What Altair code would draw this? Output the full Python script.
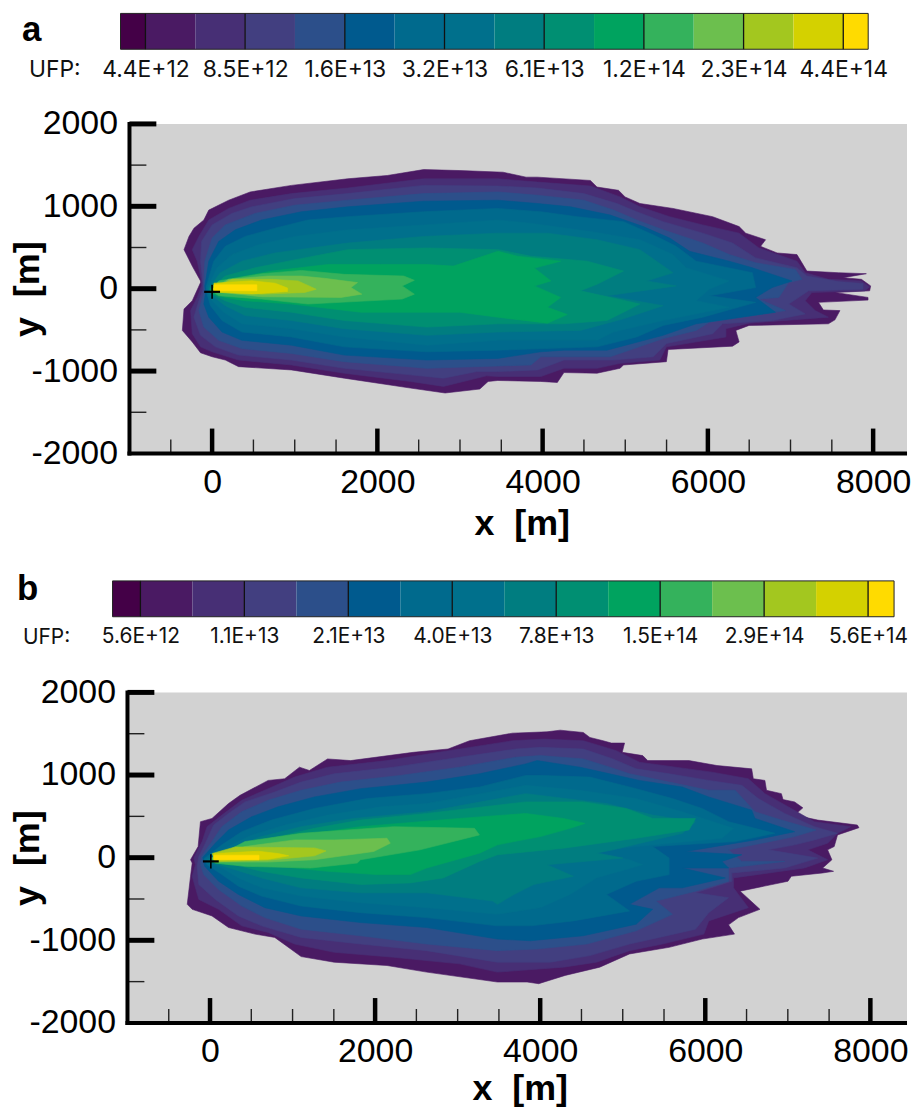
import altair as alt
import pandas as pd

COLORS = ["#440047", "#4a1a63", "#472f75", "#423f80", "#2c4f8a", "#005a8e", "#006a8d", "#00708c",
          "#007d80", "#008f72", "#00a35f", "#34b25c", "#6cbf4e", "#a3c71f", "#d4d100", "#ffdb00"]
LABELS_A = ["4.4E+12", "8.5E+12", "1.6E+13", "3.2E+13", "6.1E+13", "1.2E+14", "2.3E+14", "4.4E+14"]
LABELS_B = ["5.6E+12", "1.1E+13", "2.1E+13", "4.0E+13", "7.8E+13", "1.5E+14", "2.9E+14", "5.6E+14"]
X_MAJOR = [0, 2000, 4000, 6000, 8000]
X_MINOR = [-500, 500, 1000, 1500, 2500, 3000, 3500, 4500, 5000, 5500, 6500, 7000, 7500]
Y_MAJOR = [2000, 1000, 0, -1000]
Y_LABELS = [2000, 1000, 0, -1000, -2000]
Y_MINOR = [1500, 500, -500, -1500]

A01 = [(-140,94),(-240,274),(-340,474),(-280,634),(-220,734),(-100,834),(-40,954),(200,1074),(460,1174),(960,1254),(1640,1334),(2120,1374),(2560,1446),(3000,1434),(3520,1414),(3800,1354),(3938,1354),(4578,1314),(4658,1234),(4918,1194),(4998,1114),(5178,1034),(5578,974),(6058,874),(6378,754),(6458,674),(6698,594),(6638,514),(6838,434),(7078,414),(7198,214),(7578,194),(7918,182),(7638,134),(7858,114),(7970,34),(7958,-26),(7538,-46),(7938,-106),(7938,-138),(7338,-166),(7398,-258),(7598,-266),(7538,-378),(7458,-426),(6498,-446),(6338,-506),(6378,-646),(6298,-698),(5518,-738),(5498,-886),(4978,-926),(4938,-966),(4658,-1026),(4258,-1018),(4178,-1138),(3978,-1126),(3458,-1114),(3340,-1126),(3240,-1218),(2820,-1266),(2400,-1206),(1600,-1086),(960,-986),(320,-946),(160,-866),(0,-826),(-140,-778),(-240,-646),(-360,-506),(-340,-246),(-240,-146),(-140,74)]
A02 = [(-128,94),(-180,334),(-240,474),(-160,634),(-40,834),(200,974),(460,1074),(960,1154),(1640,1222),(2560,1334),(3460,1334),(3938,1294),(4578,1246),(4938,1114),(5178,994),(5538,874),(5938,774),(6378,674),(6618,494),(7078,334),(7178,194),(7458,114),(7858,94),(7958,22),(7898,-26),(7258,-46),(7178,-146),(7298,-266),(7458,-346),(6498,-418),(6218,-486),(6218,-586),(5498,-706),(5418,-866),(4938,-906),(4658,-966),(4258,-966),(3978,-1066),(3458,-1066),(3320,-1058),(2800,-1186),(2400,-1126),(1600,-1026),(960,-926),(320,-866),(0,-766),(-140,-706),(-240,-546),(-260,-266),(-180,-106),(-128,34)]
A03 = [(-112,74),(-140,334),(-128,574),(0,774),(240,914),(480,994),(1000,1094),(1640,1154),(2560,1254),(3460,1246),(3938,1222),(4498,1154),(4898,1034),(5138,934),(5458,814),(5938,674),(6298,554),(6578,374),(7078,254),(7198,154),(7578,86),(7878,62),(7878,-6),(7218,-26),(6978,-186),(7178,-306),(6778,-386),(6178,-426),(6058,-546),(5498,-666),(5338,-826),(4858,-866),(4258,-866),(3938,-986),(3458,-1006),(3200,-1006),(2800,-1086),(2400,-1046),(1600,-966),(960,-866),(320,-806),(40,-706),(-140,-566),(-220,-346),(-160,-146),(-112,-6)]
A04 = [(-100,54),(-88,334),(0,614),(160,774),(520,914),(1000,1014),(1640,1074),(2560,1154),(3460,1174),(3938,1134),(4498,1074),(4858,954),(5138,834),(5458,714),(5938,554),(6258,414),(6578,314),(7058,234),(7138,114),(6978,74),(6858,-106),(6618,-126),(6938,-266),(6018,-406),(5858,-506),(5458,-606),(4818,-826),(3978,-826),(3858,-926),(3458,-938),(2600,-966),(1600,-886),(960,-786),(360,-726),(80,-626),(-100,-466),(-160,-266),(-100,-46)]
A05 = [(-88,34),(-40,334),(80,574),(280,714),(600,834),(1080,934),(1640,994),(2560,1062),(3460,1074),(3938,1034),(4338,994),(4818,894),(5218,754),(5538,614),(5778,454),(6258,334),(6538,254),(7018,94),(6778,14),(6578,-106),(6818,-286),(5858,-426),(5458,-566),(4778,-746),(4258,-746),(3978,-766),(3458,-846),(2600,-866),(1600,-806),(960,-686),(360,-626),(120,-526),(-40,-346),(-100,-186),(-80,-46)]
A06 = [(-72,22),(20,334),(160,514),(400,634),(760,734),(1160,834),(1640,874),(2560,934),(3460,974),(3978,934),(4418,874),(4978,814),(5338,654),(5618,514),(5858,334),(6538,194),(6578,14),(6018,-86),(6578,-166),(5938,-346),(5458,-446),(5138,-586),(4658,-706),(3458,-746),(2600,-766),(1600,-706),(960,-586),(360,-526),(120,-386),(-20,-206),(-60,-66)]
A07 = [(-56,14),(60,254),(240,414),(560,534),(1000,634),(1640,714),(2560,774),(3460,834),(3858,794),(4578,694),(5178,594),(5578,414),(5738,254),(6258,94),(6018,-6),(5858,-146),(6258,-226),(5458,-386),(4858,-526),(4658,-626),(3458,-626),(2600,-686),(1600,-586),(960,-486),(360,-426),(140,-286),(0,-146),(-40,-66)]
A08 = [(-40,6),(100,194),(360,334),(760,434),(1640,554),(2560,634),(3460,674),(4058,674),(4658,594),(5178,474),(5578,194),(5258,94),(5618,34),(4778,-86),(5458,-206),(4978,-366),(4458,-506),(3458,-526),(2600,-566),(1600,-486),(960,-386),(400,-326),(160,-206),(0,-86)]
A09 = [(-28,-6),(160,154),(520,254),(1120,374),(1640,474),(2600,494),(3460,474),(3858,394),(4538,334),(4978,214),(4658,54),(4458,-26),(5178,-186),(4778,-386),(4258,-426),(3458,-426),(2600,-466),(1600,-386),(960,-286),(400,-226),(160,-146),(0,-66)]
A10 = [(-20,-18),(200,114),(720,214),(1400,294),(2040,294),(2600,294),(2920,274),(3458,454),(3698,394),(4218,334),(3900,250),(4100,94),(3900,34),(4218,-106),(4058,-226),(4298,-314),(4058,-418),(3458,-346),(3000,-286),(1800,-286),(960,-186),(400,-146),(160,-106),(0,-58)]
A11 = [(-8,-26),(80,94),(600,182),(1080,222),(1600,174),(2320,154),(2448,102),(2300,34),(2448,-66),(2300,-126),(1160,-186),(600,-126),(80,-86)]
A12 = [(0,-6),(200,114),(680,154),(1080,154),(1360,126),(1760,74),(1680,14),(1812,-66),(1560,-106),(600,-98),(120,-46)]
A13 = [(0,-6),(240,114),(720,114),(1040,94),(1260,-6),(1120,-46),(600,-66),(80,-38)]
A14 = [(22,67),(482,95),(762,67),(914,7),(914,-33),(482,-65),(22,-41)]
A15 = [(22,47),(542,47),(542,-25),(22,-25)]

B01 = [(-236,-25),(-144,135),(-116,435),(24,475),(224,655),(364,755),(704,935),(904,955),(1084,1095),(1204,1055),(1424,1195),(1704,1175),(2464,1275),(2884,1315),(3144,1415),(3664,1507),(4082,1523),(4242,1543),(4522,1515),(4602,1455),(4762,1415),(4862,1387),(5022,1387),(4994,1275),(5242,1235),(5302,1175),(5802,1175),(6142,1115),(6562,1075),(6582,955),(6722,935),(6742,815),(6922,775),(6942,703),(7082,675),(7182,603),(7082,515),(7362,455),(7842,395),(7862,363),(7602,275),(7562,135),(7482,95),(7534,-25),(7422,-125),(7554,-165),(7422,-185),(7042,-225),(7002,-285),(6422,-405),(6662,-625),(6402,-725),(6282,-813),(6354,-925),(5962,-985),(5562,-1085),(5082,-1165),(4722,-1325),(4302,-1425),(3982,-1525),(3842,-1505),(3482,-1505),(2624,-1385),(2144,-1305),(1504,-1265),(1104,-1197),(784,-965),(544,-925),(224,-845),(24,-705),(-216,-625),(-276,-565),(-236,-225),(-216,-65)]
B02 = [(-196,-5),(-96,195),(-36,375),(144,515),(384,695),(704,835),(1024,975),(1424,1095),(2144,1175),(3024,1315),(3664,1415),(4042,1435),(4522,1415),(4922,1295),(5202,1155),(6082,1035),(6522,955),(6722,775),(7042,595),(7322,435),(7762,375),(7602,295),(7482,175),(7242,95),(7482,-25),(7202,-125),(6342,-245),(6342,-365),(6402,-445),(6522,-605),(6042,-765),(5982,-925),(5482,-1045),(5082,-1125),(4682,-1265),(4282,-1325),(3482,-1385),(3024,-1285),(2224,-1205),(1504,-1145),(1024,-1045),(704,-905),(384,-825),(104,-625),(-136,-505),(-216,-225),(-176,-85)]
B03 = [(-136,15),(-56,175),(44,395),(224,535),(424,675),(784,795),(1104,915),(1504,1015),(2224,1095),(3024,1215),(3704,1315),(4002,1335),(4522,1315),(4882,1195),(5162,1075),(5562,1015),(6042,935),(6442,875),(6642,715),(6962,535),(7322,375),(7602,295),(7322,215),(7082,155),(6762,95),(7362,-5),(6962,-125),(6322,-185),(6322,-285),(5882,-425),(6282,-485),(6042,-665),(5882,-865),(5442,-965),(5082,-1045),(4602,-1185),(4122,-1265),(3482,-1265),(2624,-1125),(1824,-1045),(1104,-965),(624,-825),(344,-705),(64,-505),(-136,-325),(-156,-105)]
B04 = [(-104,15),(24,195),(144,375),(384,555),(704,695),(1104,815),(1584,915),(2304,995),(3024,1095),(3704,1215),(4002,1235),(4522,1195),(4842,1095),(5082,1015),(5562,915),(6042,815),(6362,815),(6602,555),(6922,455),(7342,335),(7082,255),(6682,175),(6282,95),(6442,-45),(6962,-45),(6282,-125),(6282,-285),(5882,-405),(5402,-525),(5602,-685),(5162,-885),(4562,-1045),(3962,-1105),(3482,-1125),(2624,-1045),(1824,-945),(1104,-865),(664,-725),(384,-585),(104,-385),(-76,-205),(-116,-85)]
B05 = [(-88,3),(64,175),(224,335),(504,495),(824,615),(1264,735),(1824,835),(2624,915),(3264,1015),(3824,1135),(3962,1175),(4482,1095),(4842,1015),(5202,935),(5722,855),(6042,735),(6562,575),(6602,475),(7082,315),(6602,215),(5762,75),(6442,35),(6202,-45),(6282,-125),(5722,-125),(6242,-245),(5722,-365),(5442,-365),(5082,-565),(5362,-625),(5162,-805),(4522,-945),(3882,-1005),(3482,-985),(2624,-845),(1824,-785),(1104,-705),(664,-605),(344,-445),(104,-285),(-64,-105)]
B06 = [(-72,-13),(144,155),(384,315),(744,455),(1264,595),(1904,715),(2624,775),(3264,855),(3824,995),(4002,995),(4602,975),(5162,835),(5602,715),(5962,595),(6282,435),(6842,295),(6362,195),(5362,135),(5562,-5),(5562,-205),(5162,-285),(4802,-445),(5082,-645),(4402,-765),(3882,-825),(3482,-825),(2624,-725),(1824,-665),(1104,-585),(624,-465),(344,-345),(144,-205),(-36,-85)]
B07 = [(-48,-21),(224,135),(504,275),(904,395),(1424,515),(2064,615),(2624,655),(3824,875),(4482,815),(5162,715),(5722,555),(6342,355),(6202,235),(5162,135),(4642,75),(5082,-25),(5242,-85),(4682,-245),(4362,-445),(4002,-605),(3482,-685),(2624,-605),(1824,-545),(1104,-465),(624,-365),(344,-245),(144,-125),(-16,-65)]
B08 = [(-32,-37),(304,135),(624,255),(1104,375),(1744,475),(2624,555),(3824,775),(4802,655),(5362,515),(5882,435),(5722,295),(4882,95),(4682,55),(5002,-5),(4082,-85),(4402,-225),(3922,-325),(3682,-445),(3482,-565),(3424,-525),(2624,-425),(1824,-425),(1104,-365),(624,-245),(304,-145),(104,-85)]
B09 = [(-16,-45),(384,135),(744,235),(1264,355),(1824,455),(2624,535),(3824,675),(4522,675),(5042,595),(5362,475),(5882,475),(5802,335),(5162,235),(4282,115),(3482,35),(3264,-45),(2824,-245),(2424,-305),(1824,-325),(1104,-245),(624,-165),(304,-85),(64,-65)]
B10 = [(-4,-53),(384,115),(824,215),(1264,295),(1824,375),(3024,475),(3824,535),(4282,475),(4542,415),(4362,355),(4002,255),(3682,195),(3482,155),(3264,55),(2624,-125),(2424,-205),(2024,-205),(1424,-165),(824,-105),(224,-85)]
B11 = [(4,-25),(424,195),(1104,295),(2224,375),(3204,355),(3264,275),(2544,95),(1824,-25),(1784,-65),(1224,-125),(424,-105),(64,-65)]
B12 = [(16,-5),(424,135),(1024,215),(1504,215),(2144,235),(2184,175),(1984,75),(1264,-25),(704,-53),(104,-53)]
B13 = [(26,50),(306,130),(1266,118),(1406,82),(1266,22),(706,-30),(66,-50)]
B14 = [(46,50),(586,78),(826,50),(954,22),(706,-18),(46,-30)]
B15 = [(46,30),(594,30),(594,-26),(46,-26)]

LEVELS_A = [A01, A02, A03, A04, A05, A06, A07, A08, A09, A10, A11, A12, A13, A14, A15]
LEVELS_B = [B01, B02, B03, B04, B05, B06, B07, B08, B09, B10, B11, B12, B13, B14, B15]
FONT = "Liberation Sans"
GRAY = "#d2d2d2"
PANEL_W = 798


def one(**cols):
    return pd.DataFrame(cols)


def colorbar(labels, letter, xdom, width, height, letter_x, letter_y, ufp_x, left_edge, label_size):
    edges = [left_edge] + list(range(0, 15)) + [14.5]
    df = one(x0=edges[:-1], x1=edges[1:], c=COLORS)
    xs = alt.Scale(domain=xdom, nice=False, zero=False)
    expr = "[" + ",".join(f"'{t}'" for t in labels) + "][datum.value/2]"
    xaxis = alt.Axis(values=list(range(0, 15, 2)), labelExpr=expr, title=None, domain=False, ticks=False,
                     grid=False, labelFont="Inter", labelFontSize=label_size, labelColor="#111",
                     labelPadding=9, labelOverlap=False, labelFlush=False, offset=36 - height)
    bands = alt.Chart(df).mark_rect(stroke=None).encode(
        x=alt.X("x0:Q", scale=xs, axis=xaxis), x2="x1:Q",
        y=alt.value(0), y2=alt.value(36), fill=alt.Fill("c:N", scale=None))
    ticks = alt.Chart(one(x=list(range(0, 15, 2)))).mark_rule(color="#111", strokeWidth=1.3).encode(
        x=alt.X("x:Q", scale=xs, axis=xaxis), y=alt.value(0), y2=alt.value(36))
    frame = alt.Chart(one(x0=[left_edge], x1=[14.5])).mark_rect(filled=False, stroke="#222", strokeWidth=1).encode(
        x=alt.X("x0:Q", scale=xs, axis=xaxis), x2="x1:Q", y=alt.value(0), y2=alt.value(36))
    let = alt.Chart(one(t=[letter])).mark_text(font=FONT, fontWeight="bold", fontSize=35, align="left",
                                               baseline="middle", color="#000").encode(
        text="t:N", x=alt.value(letter_x), y=alt.value(letter_y))
    ufp = alt.Chart(one(t=["UFP:"])).mark_text(font="Inter", fontSize=label_size, align="left", baseline="middle",
                                               color="#111").encode(
        text="t:N", x=alt.value(ufp_x), y=alt.value(57))
    return alt.layer(bands, ticks, frame, let, ufp).properties(width=width, height=height)


def contour(levels, cross, xdom, xleft, plot_h, panel_h, title_x, title_pad, ytitle_x):
    xs = alt.Scale(domain=xdom, nice=False, zero=False)
    ys = alt.Scale(domain=[-2000, 2000], nice=False, zero=False, range=[plot_h, 0])
    xaxis = alt.Axis(values=X_MAJOR, title="x\u00a0\u00a0[m]", titleFont=FONT, titleFontWeight="bold", titleFontSize=36,
                     titleColor="#000", titlePadding=title_pad, titleX=title_x, domain=False, ticks=False, grid=False,
                     labelFont=FONT, labelFontSize=34, labelColor="#000", labelPadding=12, labelOverlap=False,
                     labelFlush=False, format="d", offset=plot_h - panel_h)
    yaxis = alt.Axis(values=Y_LABELS, labelExpr="'' + datum.value", title="y\u00a0\u00a0[m]", titleFont=FONT,
                     titleFontWeight="bold", titleFontSize=36, titleColor="#000", titleX=ytitle_x, titleY=plot_h / 2,
                     domain=False, ticks=False, grid=False, labelFont=FONT, labelFontSize=34, labelColor="#000",
                     labelPadding=12, labelOverlap=False, labelFlush=False, offset=-xleft)
    xq = alt.X("x:Q", scale=xs, axis=xaxis)
    yq = alt.Y("y:Q", scale=ys, axis=yaxis)
    layers = [alt.Chart(one(x0=[-1000], x1=[xdom[1]], y0=[-2000], y1=[2000])).mark_rect(color=GRAY).encode(
        x=alt.X("x0:Q", scale=xs, axis=xaxis), x2="x1:Q",
        y=alt.Y("y0:Q", scale=ys, axis=yaxis), y2="y1:Q")]
    for k, pts in enumerate(levels):
        closed = pts + pts[:1]
        df = one(x=[p[0] for p in closed], y=[p[1] for p in closed], i=list(range(len(closed))))
        col = COLORS[k + 1]
        layers.append(alt.Chart(df).mark_line(color=col, fill=col, strokeWidth=0.6, interpolate="linear").encode(
            x=xq, y=yq, order="i:Q"))
    layers += [
        alt.Chart(one(x=X_MINOR)).mark_rule(color="#222", strokeWidth=1.4).encode(
            x=xq, y=alt.value(plot_h), y2=alt.value(plot_h - 14)),
        alt.Chart(one(y=Y_MINOR)).mark_rule(color="#222", strokeWidth=1.4).encode(
            y=yq, x=alt.value(xleft), x2=alt.value(xleft + 17)),
        alt.Chart(one(x=X_MAJOR)).mark_rule(color="#000", strokeWidth=4.5).encode(
            x=xq, y=alt.value(plot_h), y2=alt.value(plot_h - 25)),
        alt.Chart(one(y=Y_MAJOR)).mark_rule(color="#000", strokeWidth=5).encode(
            y=yq, x=alt.value(xleft), x2=alt.value(xleft + 27)),
        alt.Chart(one(y=[-2000])).mark_rule(color="#000", strokeWidth=4).encode(
            y=yq, x=alt.value(xleft - 2), x2=alt.value(PANEL_W)),
        alt.Chart(one(x=[-1000])).mark_rule(color="#000", strokeWidth=4).encode(
            x=xq, y=alt.value(-2), y2=alt.value(plot_h + 2)),
        alt.Chart(one(x0=[cross[0] - 96], x1=[cross[0] + 96], y=[cross[1]])).mark_rule(color="#000", strokeWidth=2.2).encode(
            x=alt.X("x0:Q", scale=xs, axis=xaxis), x2="x1:Q", y=yq),
        alt.Chart(one(x=[cross[0]], y0=[cross[1] - 85], y1=[cross[1] + 85])).mark_rule(color="#000", strokeWidth=1.6).encode(
            x=xq, y=alt.Y("y0:Q", scale=ys, axis=yaxis), y2="y1:Q"),
    ]
    return alt.layer(*layers).properties(width=PANEL_W, height=panel_h)


bar_a = colorbar(LABELS_A, "a", [-0.66, 14.5], 759, 111, -91, 17, -84, -0.5, 23)
plot_a = contour(LEVELS_A, (0, -38), [-1205, 8410], 17, 331, 459, 411, 7, -83)
bar_b = colorbar(LABELS_B, "b", [-0.536, 14.5], 785, 112, -96, 8, -90, -0.536, 21)
plot_b = contour(LEVELS_B, (10, -45), [-1181, 8444], 15, 332, 332, 409, 3, -81)

chart = alt.vconcat(bar_a, plot_a, bar_b, plot_b, spacing=0, bounds="flush").properties(
    padding={"left": 2, "top": 2, "right": 0, "bottom": 0}, background="white"
).configure_view(stroke=None)

chart.save("out.html", embed_options={"renderer": "svg", "actions": False})
